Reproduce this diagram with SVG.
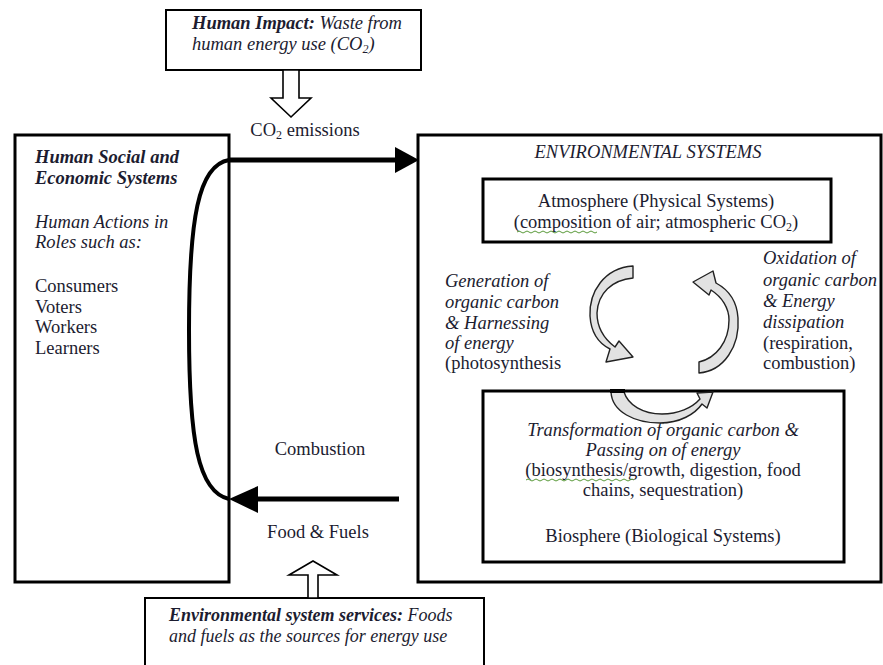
<svg xmlns="http://www.w3.org/2000/svg" width="883" height="665" viewBox="0 0 883 665" font-family="'Liberation Serif','DejaVu Serif',serif">
<style>
text{font-family:"Liberation Serif","DejaVu Serif",serif;font-size:18.5px;fill:#1c1c30}
.i{font-style:italic}
.b{font-weight:bold}
.box{fill:none;stroke:#000;stroke-width:3}
.thin{fill:#fff;stroke:#000;stroke-width:2}
.hollow{fill:#fff;stroke:#000;stroke-width:1.6;stroke-linejoin:miter}
.curl{fill:#e2e2e2;stroke:#222;stroke-width:1.4;stroke-linejoin:round}
.flow{fill:none;stroke:#000;stroke-width:5}
.sq{fill:none;stroke:#5a9a3a;stroke-width:1}
</style>
<rect width="883" height="665" fill="#fff"/>

<g id="human-impact">
<rect class="thin" x="166" y="10" width="255" height="60"/>
<text x="192" y="29"><tspan class="b i">Human Impact:</tspan><tspan class="i"> Waste from</tspan></text>
<text x="192" y="50" class="i">human energy  use (CO<tspan font-size="12" dy="3">2</tspan><tspan dy="-3">)</tspan></text>
<polygon class="hollow" points="283,70 283,98 271,98 291,117 311,98 299,98 299,70"/>
</g>

<g id="human-systems">
<rect class="box" x="15" y="135" width="214" height="447"/>
<text x="35" y="163" class="b i">Human Social and</text>
<text x="35" y="184" class="b i">Economic Systems</text>
<text x="35" y="228" class="i">Human  Actions in</text>
<text x="35" y="248" class="i">Roles such as:</text>
<text x="35" y="292">Consumers</text>
<text x="35" y="313">Voters</text>
<text x="35" y="333">Workers</text>
<text x="35" y="354">Learners</text>
</g>

<g id="environmental-systems">
<rect class="box" x="418" y="135" width="463" height="447"/>
<text x="648" y="158" class="i" text-anchor="middle">ENVIRONMENTAL SYSTEMS</text>
</g>

<g id="atmosphere">
<rect class="box" x="483" y="179" width="348" height="63"/>
<text x="656" y="207" text-anchor="middle">Atmosphere (Physical Systems)</text>
<text x="656" y="228" text-anchor="middle">(composition of air; atmospheric CO<tspan font-size="12" dy="3">2</tspan><tspan dy="-3">)</tspan></text>
<path class="sq" d="M517,232 q2,-2 4,0 t4,0 t4,0 t4,0 t4,0 t4,0 t4,0 t4,0 t4,0 t4,0 t4,0 t4,0 t4,0 t4,0 t4,0 t4,0 t4,0 t4,0 t4,0 t4,0"/>
</g>

<g id="biosphere">
<rect class="box" x="483" y="391" width="361" height="171"/>
<text x="663" y="436" class="i" text-anchor="middle">Transformation of organic carbon &amp;</text>
<text x="663" y="456" class="i" text-anchor="middle">Passing on of energy</text>
<text x="663" y="476" text-anchor="middle">(biosynthesis/growth, digestion, food</text>
<text x="663" y="496" text-anchor="middle">chains, sequestration)</text>
<text x="663" y="542" text-anchor="middle">Biosphere (Biological Systems)</text>
<path class="sq" d="M526,480 q2,-2 4,0 t4,0 t4,0 t4,0 t4,0 t4,0 t4,0 t4,0 t4,0 t4,0 t4,0 t4,0 t4,0 t4,0 t4,0 t4,0 t4,0 t4,0 t4,0 t4,0 t4,0 t4,0 t4,0 t4,0 t4,0 t4,0 t4,0"/>
</g>

<g id="generation">
<text x="445" y="287" class="i">Generation of</text>
<text x="445" y="308" class="i">organic carbon</text>
<text x="445" y="329" class="i">&amp; Harnessing</text>
<text x="445" y="349" class="i">of energy</text>
<text x="445" y="369">(photosynthesis</text>
</g>

<g id="oxidation">
<text x="763" y="264" class="i">Oxidation of</text>
<text x="763" y="286" class="i">organic carbon</text>
<text x="763" y="307" class="i">&amp; Energy</text>
<text x="763" y="328" class="i">dissipation</text>
<text x="763" y="349">(respiration,</text>
<text x="763" y="369">combustion)</text>
</g>

<g id="env-services">
<rect class="thin" x="145" y="598" width="339" height="80"/>
<text x="169" y="621" font-size="18" style="font-size:18px"><tspan class="b i">Environmental system services:</tspan><tspan class="i"> Foods</tspan></text>
<text x="169" y="642" class="i" style="font-size:18px">and fuels as the sources for energy use</text>
<polygon class="hollow" points="308,598 308,575 289,575 313,561 337,575 318,575 318,598"/>
</g>

<g id="labels">
<text x="305" y="136" text-anchor="middle">CO<tspan font-size="12" dy="3">2</tspan><tspan dy="-3"> emissions</tspan></text>
<text x="320" y="455" text-anchor="middle">Combustion</text>
<text x="318" y="538" text-anchor="middle">Food &amp; Fuels</text>
</g>

<g id="connectors">
<path class="flow" d="M229,160 L397,160"/>
<polygon points="395,147 419,160 395,173" fill="#000"/>
<path class="flow" d="M399,499 L256,499"/>
<polygon points="258,486 229,499 258,513" fill="#000"/>
<path fill="none" stroke="#000" stroke-width="4" d="M229,160 C198,165 189,220 189,330 C189,440 198,492 229,499"/>
<path class="curl" d="M633,266 C604,268 589,292 590,316 C591,332 598,343 610,349 L606,362 L633,357 L619,341 L615,347 C603,338 597,327 597,313 C598,293 612,280 633,278 Z"/>
<path class="curl" d="M699,373 C724,371 740,346 738,318 C737,302 729,290 716,283 L713,271 L693,282 L709,295 L711,290 C722,297 729,308 729,320 C729,342 716,358 699,362 Z"/>
<path class="curl" d="M611,392 C612,412 635,423 660,423 C680,423 695,414 702,404 L707,408 L713,392 L697,393 L700,399 C692,408 678,414 662,414 C643,414 628,405 624,392 Z"/>
<line x1="610" y1="391" x2="625" y2="391" stroke="#000" stroke-width="4"/>
</g>
</svg>
